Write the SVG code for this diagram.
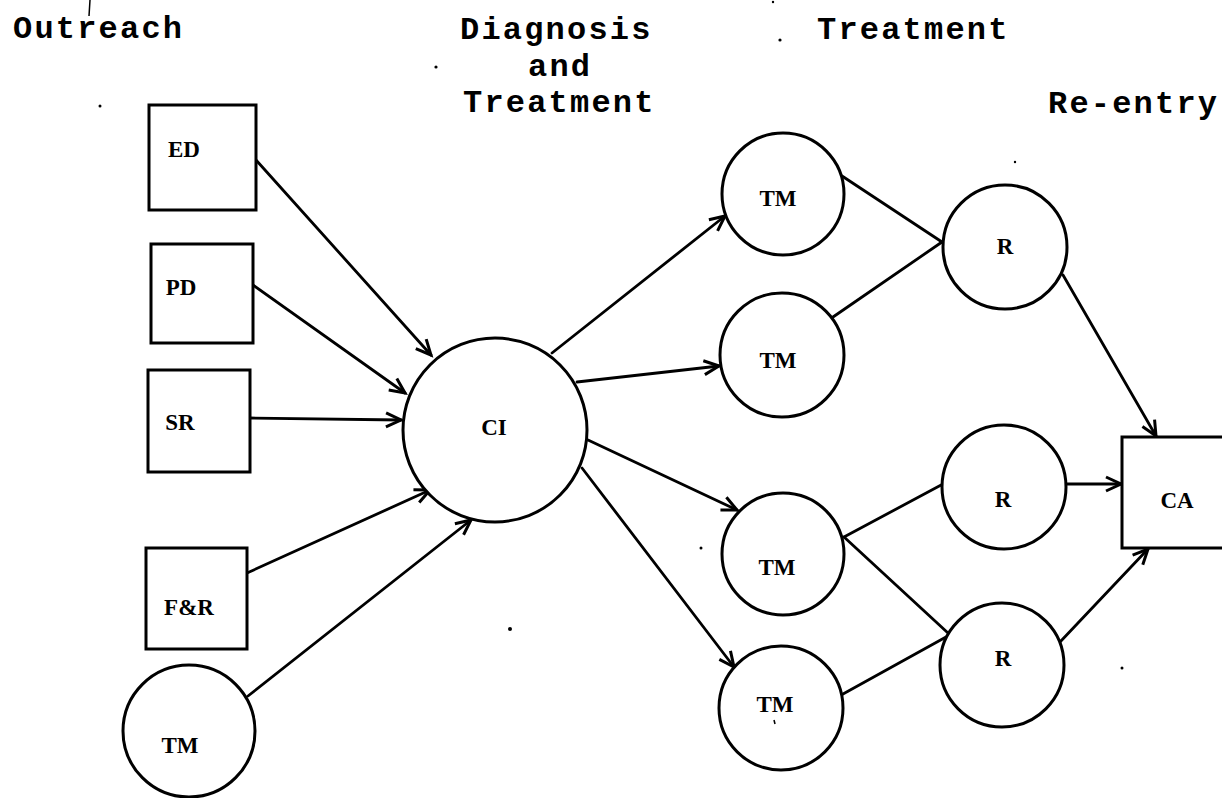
<svg xmlns="http://www.w3.org/2000/svg" width="1222" height="798" viewBox="0 0 1222 798">
  <style>
    .box { fill: #fff; stroke: #000; stroke-width: 3; }
    .node { fill: #fff; stroke: #000; stroke-width: 3; }
    .lbl { font-family: "Liberation Serif", "Times New Roman", serif; font-weight: bold; font-size: 23px; fill: #000; text-anchor: middle; }
    .head { font-family: "Liberation Mono", "Courier New", monospace; font-weight: bold; font-size: 32px; letter-spacing: 2.2px; fill: #000; }
    .edge { fill: none; stroke: #000; stroke-width: 2.8; stroke-linecap: round; }
    .arr { marker-end: url(#open); }
    .speck { fill: #000; }
  </style>
  <defs>
    <marker id="open" viewBox="-18 -10 22 20" markerWidth="22" markerHeight="20" refX="0" refY="0" orient="auto" markerUnits="userSpaceOnUse">
      <path d="M-15,-7 L0,0 L-15,7" fill="none" stroke="#000" stroke-width="3" stroke-linejoin="miter"/>
    </marker>
  </defs>
  <rect width="1222" height="798" fill="#fff"/>

  <!-- phase headings -->
  <g id="headings">
    <text class="head" x="13" y="38">Outreach</text>
    <text class="head" x="460" y="39">Diagnosis</text>
    <text class="head" x="528" y="76">and</text>
    <text class="head" x="463" y="112">Treatment</text>
    <text class="head" x="817" y="39">Treatment</text>
    <text class="head" x="1048" y="113">Re-entry</text>
  </g>

  <!-- connectors -->
  <g id="connectors">
    <line class="edge arr" x1="256" y1="160" x2="431" y2="355"/>
    <line class="edge arr" x1="253" y1="285" x2="405" y2="393"/>
    <line class="edge arr" x1="250" y1="418" x2="401" y2="420"/>
    <line class="edge arr" x1="247" y1="573" x2="430" y2="490"/>
    <line class="edge arr" x1="248" y1="696" x2="471" y2="520"/>

    <line class="edge arr" x1="552" y1="353" x2="725" y2="216"/>
    <line class="edge arr" x1="577" y1="382" x2="719" y2="366"/>
    <line class="edge arr" x1="588" y1="440" x2="737" y2="510"/>
    <line class="edge arr" x1="582" y1="468" x2="734" y2="667"/>

    <line class="edge" x1="842" y1="176" x2="942" y2="242"/>
    <line class="edge" x1="833" y1="317" x2="942" y2="242"/>
    <line class="edge" x1="844" y1="537" x2="943" y2="484"/>
    <line class="edge" x1="844" y1="537" x2="948" y2="633"/>
    <line class="edge" x1="843" y1="694" x2="946" y2="637"/>

    <line class="edge arr" x1="1063" y1="275" x2="1156" y2="436"/>
    <line class="edge arr" x1="1067" y1="484" x2="1121" y2="484"/>
    <line class="edge arr" x1="1060" y1="642" x2="1148" y2="549"/>
  </g>

  <!-- outreach sources -->
  <g id="node-ed">
    <rect class="box" x="149" y="105" width="107" height="105"/>
    <text class="lbl" x="184" y="157">ED</text>
  </g>
  <g id="node-pd">
    <rect class="box" x="151" y="244" width="102" height="99"/>
    <text class="lbl" x="181" y="295">PD</text>
  </g>
  <g id="node-sr">
    <rect class="box" x="148" y="370" width="102" height="102"/>
    <text class="lbl" x="180" y="430">SR</text>
  </g>
  <g id="node-fr">
    <rect class="box" x="146" y="548" width="101" height="101"/>
    <text class="lbl" x="189" y="615">F&amp;R</text>
  </g>
  <g id="node-tm0">
    <circle class="node" cx="189" cy="731" r="66"/>
    <text class="lbl" x="180" y="753">TM</text>
  </g>

  <!-- diagnosis -->
  <g id="node-ci">
    <circle class="node" cx="495" cy="430" r="92"/>
    <text class="lbl" x="494" y="435">CI</text>
  </g>

  <!-- treatment modules -->
  <g id="node-tm1">
    <circle class="node" cx="783" cy="194" r="61"/>
    <text class="lbl" x="778" y="206">TM</text>
  </g>
  <g id="node-tm2">
    <circle class="node" cx="782" cy="355" r="62"/>
    <text class="lbl" x="778" y="368">TM</text>
  </g>
  <g id="node-tm3">
    <circle class="node" cx="783" cy="554" r="61"/>
    <text class="lbl" x="777" y="575">TM</text>
  </g>
  <g id="node-tm4">
    <circle class="node" cx="781" cy="708" r="62"/>
    <text class="lbl" x="775" y="712">TM</text>
  </g>

  <!-- re-entry -->
  <g id="node-r1">
    <circle class="node" cx="1005" cy="247" r="62"/>
    <text class="lbl" x="1005" y="254">R</text>
  </g>
  <g id="node-r2">
    <circle class="node" cx="1004" cy="487" r="62"/>
    <text class="lbl" x="1003" y="507">R</text>
  </g>
  <g id="node-r3">
    <circle class="node" cx="1002" cy="665" r="62"/>
    <text class="lbl" x="1003" y="666">R</text>
  </g>
  <g id="node-ca">
    <rect class="box" x="1122" y="437" width="120" height="111"/>
    <text class="lbl" x="1177" y="508">CA</text>
  </g>

  <!-- small marks on the sheet -->
  <g id="specks">
    <line x1="90" y1="0" x2="89" y2="16" stroke="#000" stroke-width="1.5"/>
    <circle class="speck" cx="100" cy="106" r="1.5"/>
    <circle class="speck" cx="436" cy="67" r="1.6"/>
    <circle class="speck" cx="780" cy="40" r="1.6"/>
    <circle class="speck" cx="773" cy="2" r="1.2"/>
    <circle class="speck" cx="510" cy="629" r="2"/>
    <circle class="speck" cx="701" cy="548" r="1.5"/>
    <circle class="speck" cx="1122" cy="668" r="1.5"/>
    <circle class="speck" cx="1015" cy="162" r="1.2"/>
    <line x1="774" y1="720" x2="775" y2="724" stroke="#000" stroke-width="1.5"/>
  </g>
</svg>
